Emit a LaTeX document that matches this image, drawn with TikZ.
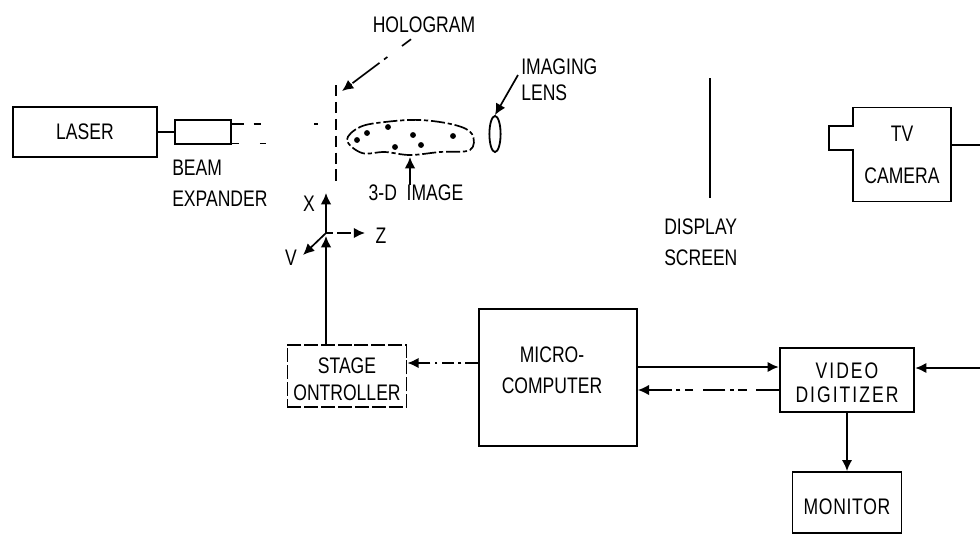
\documentclass[tikz,border=0pt]{standalone}
\usepackage{fontspec}
\setmainfont{Liberation Sans}[FakeStretch=0.78]
\usepackage{tikz}
\usetikzlibrary{arrows.meta, positioning, shapes.geometric}

\tikzset{
    blockbox/.style={draw, rectangle, line width=1.2pt, align=center, font=\fontsize{16}{22}\selectfont},
    caption/.style={align=left, inner sep=0pt, font=\fontsize{16}{22}\selectfont},
    wire/.style={line width=1.2pt},
    flow/.style={-{Latex[length=8pt,width=7.5pt]}, line width=1.2pt},
    brokenflow/.style={flow, dash pattern=on 9pt off 3pt on 2pt off 3pt},
    speck/.style={circle, fill=black, inner sep=0pt, minimum size=4.2pt}
}

\begin{document}
\begin{tikzpicture}[x=0.025cm, y=-0.025cm]
    \useasboundingbox (0,0) rectangle (980,534);

    % Laser and beam expander
    \node[blockbox, minimum width=3.6cm, minimum height=1.25cm] (laser) at (85,132) {LASER};
    \node[blockbox, minimum width=1.4cm, minimum height=0.6cm] (expander) at (203,132) {};
    \node[caption, anchor=north west] (expandertext) at (172,160) {BEAM\\EXPANDER};
    \draw[wire] (laser) -- (expander);

    % Hologram
    \coordinate (holotop) at (336,85);
    \coordinate (holobottom) at (336,183);
    \draw[wire, line width=1.5pt, dash pattern=on 8pt off 4pt] (holotop) -- (holobottom);
    \node[caption] (hologramtext) at (424,25) {HOLOGRAM};
    \draw[flow, dash pattern=on 8pt off 13pt on 3pt off 4pt on 24pt off 1pt] (hologramtext.south) ++(-13,6) -- ([xshift=0.15cm,yshift=-0.15cm]holotop);

    % Beam between expander and hologram
    \draw[wire, dash pattern=on 8.5pt off 7pt on 5pt off 38pt on 3pt off 20pt] ([yshift=-0.125cm]expander.north east) -- ++(88,0) coordinate (beamtop);
    \draw[wire, dash pattern=on 5pt off 15pt on 4pt off 20pt] ([yshift=0.03cm]expander.south east) -- ++(36,0) coordinate (beamlow);

    % 3-D image
    \draw[wire, dash pattern=on 10pt off 2pt on 3pt off 2pt] plot[smooth cycle, tension=0.6] coordinates {
        (347,140) (360,127) (385,122) (420,120) (455,125) (472,134) (470,150) (440,152) (410,155) (385,152) (362,153)};
    \foreach \dotx/\doty [count=\i] in {357/140, 367/133, 388/127, 413/135, 395/147, 421/145, 453/136}
        \node[speck] (speck\i) at (\dotx,\doty) {};
    \node[caption] (imagetext) at (416,193) {3-D\ \ IMAGE};
    \draw[flow] (imagetext.north -| 410,0) -- (410,157);

    % Imaging lens
    \node[draw, ellipse, line width=1.3pt, minimum width=0.28cm, minimum height=0.9cm, inner sep=0pt] (lens) at (495,134) {};
    \node[caption, anchor=west] (lenstext) at (521,80) {IMAGING\\[-3.5pt]LENS};
    \draw[flow] (lenstext.west) ++(-3,-5) -- (lens.north);

    % Display screen
    \coordinate (screentop) at (710,78);
    \coordinate (screenbottom) at (710,198);
    \draw[wire] (screentop) -- (screenbottom);
    \node[caption, anchor=north west] (screentext) at (664,219) {DISPLAY\\SCREEN};

    % TV camera
    \node[align=center, inner sep=0pt, minimum width=2.45cm, minimum height=2.33cm, font=\fontsize{16}{22}\selectfont] (camera) at (902,154.5) {TV\hspace{14pt}\\[8pt]CAMERA};
    \draw[wire] ([yshift=0.71cm]camera.west) -- ++(-24,0) -- ++(0,24) -- ++(24,0)
        -- (camera.south west) -- (camera.south east) -- (camera.north east) -- (camera.north west) -- cycle;
    \coordinate (cameraout) at (980,145);
    \draw[wire] (camera.east |- cameraout) -- (cameraout);

    % Stage axes
    \coordinate (origin) at (326,233);
    \node[caption] (xtext) at (309,204) {X};
    \node[caption] (ztext) at (381,236) {Z};
    \node[caption] (ytext) at (291,258) {V};
    \draw[flow] (origin) -- (326,193);
    \draw[flow, dash pattern=on 5pt off 3pt on 10pt off 4pt] (origin) -- (365,233);
    \draw[flow] (origin) -- (303,255);

    % Lower row of boxes
    \node[blockbox, dash pattern=on 10pt off 2pt, minimum width=2.98cm, minimum height=1.55cm] (stage) at (347,376) {};
    \node[caption, align=center] (stagetext) at (347,379.5) {STAGE\hspace{12pt}\\[-3pt]ONTROLLER};
    \node[blockbox, minimum width=3.95cm, minimum height=3.42cm] (micro) at (558,377.5) {};
    \node[caption, align=center] (microtext) at (552,370) {MICRO-\\COMPUTER};
    \node[blockbox, line width=1.6pt, minimum width=3.35cm, minimum height=1.6cm] (digitizer) at (847,380) {};
    \node[caption, align=center, font=\fontsize{16}{22}\selectfont\addfontfeature{LetterSpace=9}] (digitizertext) at (847,383) {VIDEO\\[-5pt]DIGITIZER};
    \node[blockbox, minimum width=2.73cm, minimum height=1.52cm] (monitor) at (847,502.5) {};
    \node[caption, font=\fontsize{16}{22}\selectfont\addfontfeature{LetterSpace=3}] (monitortext) at (847,507) {MONITOR};
    \coordinate (videoin) at (980,368);

    % Connections of the lower row
    \draw[flow] (stage.north -| origin) -- (326,236);
    \draw[brokenflow] (micro.west |- 0,363) -- (stage.east |- 0,363);
    \draw[flow, line width=1.6pt] (micro.east |- 0,367) -- (digitizer.west |- 0,367);
    \draw[brokenflow, dash pattern=on 16pt off 7pt on 6pt off 3pt on 3pt off 3pt] (digitizer.west |- 0,390) -- (micro.east |- 0,390);
    \draw[flow, line width=1.6pt] (videoin) -- (digitizer.east |- videoin);
    \draw[flow, line width=1.6pt] (digitizer) -- (monitor);

\end{tikzpicture}
\end{document}
